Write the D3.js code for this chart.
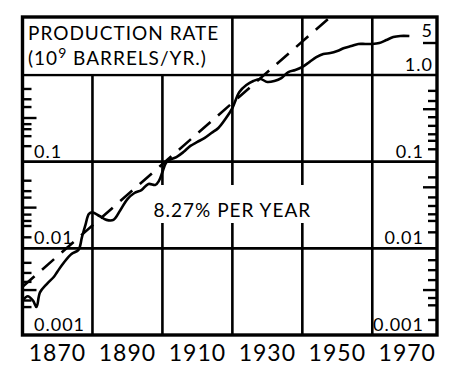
<!DOCTYPE html>
<html>
<head>
<meta charset="utf-8">
<script src="https://cdn.jsdelivr.net/npm/d3@7"></script>
<style>
    body { margin: 0; background: #fff; }
    text { font-family: "Lato", "Open Sans", sans-serif; fill: #000; }
</style>
</head>
<body>
<div id="chart"></div>
<script>
// Production rate (10^9 barrels / yr)
const years = [1860, 1861.5, 1863, 1864, 1865, 1867, 1869, 1870, 1872, 1874, 1876, 1877, 1878, 1879,
    1880, 1882, 1884, 1886, 1888, 1890, 1892, 1894, 1896, 1898, 1899, 1900, 1901, 1902, 1904, 1906,
    1908, 1910, 1912, 1914, 1916, 1918, 1920, 1922, 1924, 1926, 1928, 1930, 1932, 1934, 1936, 1938,
    1940, 1942, 1944, 1946, 1948, 1950, 1952, 1954, 1956, 1958, 1960, 1962, 1964, 1966, 1968, 1970.6];
const production = [0.0025, 0.0028, 0.0025, 0.0021, 0.0031, 0.0039, 0.0047, 0.0054, 0.0070, 0.0086,
    0.0096, 0.0135, 0.0187, 0.025, 0.026, 0.0236, 0.0213, 0.0213, 0.0277, 0.037, 0.0435, 0.047, 0.0553,
    0.054, 0.060, 0.076, 0.0966, 0.105, 0.113, 0.129, 0.152, 0.169, 0.187, 0.214, 0.245, 0.311, 0.416,
    0.637, 0.767, 0.853, 0.90, 0.83, 0.853, 0.923, 1.08, 1.14, 1.24, 1.41, 1.61, 1.75, 1.79, 1.89,
    2.05, 2.16, 2.28, 2.28, 2.28, 2.34, 2.53, 2.74, 2.82, 2.82];

// 8.27% per year trend, two end points
const trendYears = [1860, 1948];
const trendValues = [0.0036, 4.67];

// axes
const yearTicks = [1870, 1890, 1910, 1930, 1950, 1970];
const gridYears = [1880, 1900, 1920, 1940, 1960];
const gridValues = [0.01, 0.1, 1];
const leftLabels = ["0.1", "0.01", "0.001"];
const leftLabelValues = [0.1, 0.01, 0.001];
const rightLabels = ["5", "1.0", "0.1", "0.01", "0.001"];
const rightLabelValues = [2.34, 1, 0.1, 0.01, 0.001];
const leftMinor = [0.151, 0.197, 0.237, 0.271, 0.427, 0.525, 0.69,
    0.0134, 0.0181, 0.0207, 0.0245, 0.0385, 0.0457, 0.0603,
    0.0021, 0.0025, 0.0041, 0.0052, 0.0068];
const leftMajor = [0.319, 0.0295, 0.0033];
const rightMinor = [0.656, 0.501, 0.326, 0.259, 0.207, 0.174, 0.139,
    0.0659, 0.0387, 0.0308, 0.0247, 0.0207, 0.0153,
    0.0073, 0.0056, 0.0043, 0.00267, 0.0022, 0.00149];
const rightMajor = [0.403, 0.0506, 0.0033, 2.34];

const width = 460,
    height = 378,
    margin = ({ top: 17, right: 23, bottom: 43, left: 22 });

const svg = d3.select("#chart")
    .append("svg")
    .attr("width", width)
    .attr("height", height)
    .attr("viewBox", [0, 0, width, height]);

svg.append("rect").attr("width", width).attr("height", height).attr("fill", "#fff");

let x = d3.scaleLinear()
    .domain([1860, 1978.5])
    .range([margin.left + 0.5, width - margin.right]);

let y = d3.scaleLog()
    .domain([0.001, 4.67])
    .range([height - margin.bottom, margin.top]);

const plotLeft = x.range()[0], plotRight = x.range()[1],
    plotTop = y.range()[1], plotBottom = y.range()[0];

// Grid lines
svg.append("g")
    .selectAll("line")
    .data(gridYears)
    .join("line")
    .attr("x1", d => x(d)).attr("x2", d => x(d))
    .attr("y1", d => d < 1920 ? y(1) : plotTop)
    .attr("y2", plotBottom)
    .attr("stroke", "#000")
    .attr("stroke-width", 2.6);

svg.append("g")
    .selectAll("line")
    .data(gridValues)
    .join("line")
    .attr("x1", plotLeft).attr("x2", plotRight)
    .attr("y1", d => y(d)).attr("y2", d => y(d))
    .attr("stroke", "#000")
    .attr("stroke-width", 2.6);

// Minor ticks on both sides
function ticks(values, side, len) {
    svg.append("g")
        .selectAll("line")
        .data(values)
        .join("line")
        .attr("x1", side === "left" ? plotLeft : plotRight)
        .attr("x2", side === "left" ? plotLeft + len : plotRight - len)
        .attr("y1", d => y(d)).attr("y2", d => y(d))
        .attr("stroke", "#000")
        .attr("stroke-width", 2.4);
}
ticks(leftMinor, "left", 9);
ticks(leftMajor, "left", 14);
ticks(rightMinor, "right", 9);
ticks(rightMajor, "right", 14);

// Rate label with white backing
svg.append("rect")
    .attr("x", 150).attr("y", 185)
    .attr("width", 168).attr("height", 38)
    .attr("fill", "#fff");

svg.append("text")
    .attr("x", x(1920))
    .attr("y", 217)
    .attr("text-anchor", "middle")
    .attr("font-size", 19)
    .attr("letter-spacing", 1)
    .text("8.27% PER YEAR");

// Trend line (dashed)
let line = d3.line()
    .x(d => x(d[0]))
    .y(d => y(d[1]));

svg.append("path")
    .datum(trendYears.map((d, i) => [d, trendValues[i]]))
    .attr("fill", "none")
    .attr("stroke", "#000")
    .attr("stroke-width", 2.6)
    .attr("stroke-dasharray", "16,10")
    .attr("d", line);

// Production curve
svg.append("path")
    .datum(years.map((d, i) => [d, production[i]]))
    .attr("fill", "none")
    .attr("stroke", "#000")
    .attr("stroke-width", 2.6)
    .attr("stroke-linejoin", "round")
    .attr("d", line.curve(d3.curveCatmullRom));

// Header box
svg.append("rect")
    .attr("x", plotLeft).attr("y", plotTop)
    .attr("width", x(1920) - plotLeft - 1.4).attr("height", y(1) - plotTop - 1.4)
    .attr("fill", "#fff");

svg.append("text")
    .attr("x", 28).attr("y", 40)
    .attr("font-size", 19)
    .attr("letter-spacing", 1)
    .text("PRODUCTION RATE");

let sub = svg.append("text")
    .attr("x", 28).attr("y", 65)
    .attr("font-size", 19)
    .attr("letter-spacing", 1);
sub.append("tspan").text("(10");
sub.append("tspan").attr("dy", -7).attr("font-size", 14).text("9");
sub.append("tspan").attr("dy", 7).text(" BARRELS/YR.)");

// Left labels
svg.append("g")
    .selectAll("text")
    .data(leftLabels)
    .join("text")
    .attr("x", 34)
    .attr("y", (d, i) => y(leftLabelValues[i]) - 4)
    .attr("font-size", 18)
    .attr("letter-spacing", 1)
    .text(d => d);

// Right labels
svg.append("g")
    .selectAll("text")
    .data(rightLabels)
    .join("text")
    .attr("x", (d, i) => rightLabelValues[i] >= 1 ? plotRight - 4 : plotRight - 13)
    .attr("y", (d, i) => y(rightLabelValues[i]) - (rightLabelValues[i] > 2 ? 6 : 4))
    .attr("text-anchor", "end")
    .attr("font-size", 18)
    .attr("letter-spacing", 1)
    .text(d => d);

// Year labels
svg.append("g")
    .selectAll("text")
    .data(yearTicks)
    .join("text")
    .attr("x", d => x(d))
    .attr("y", 361)
    .attr("text-anchor", "middle")
    .attr("font-size", 23)
    .attr("letter-spacing", 1)
    .text(d => d);

// Frame
svg.append("rect")
    .attr("x", plotLeft).attr("y", plotTop)
    .attr("width", plotRight - plotLeft).attr("height", plotBottom - plotTop)
    .attr("fill", "none")
    .attr("stroke", "#000")
    .attr("stroke-width", 3.4);
</script>
</body>
</html>
